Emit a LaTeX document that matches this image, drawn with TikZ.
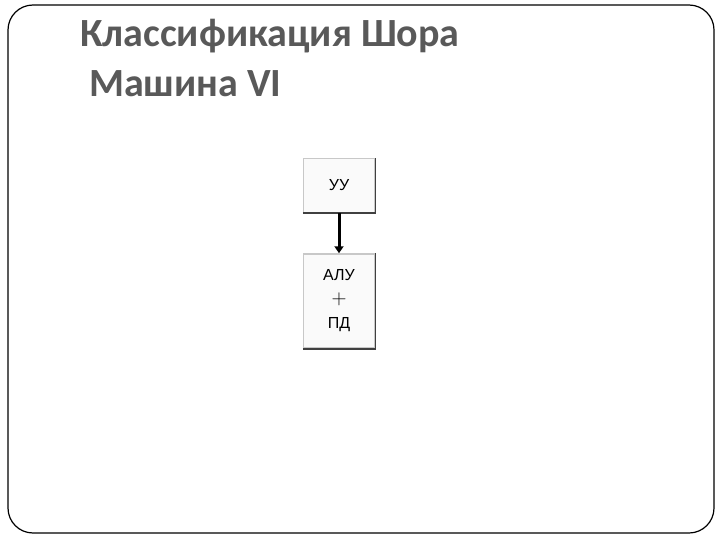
\documentclass[tikz,border=0pt]{standalone}
\usepackage{fontspec}
\setmainfont{Carlito}
\newfontfamily\boxfont{Liberation Sans}
\usetikzlibrary{positioning, arrows.meta}
\definecolor{titlegray}{HTML}{595959}
\definecolor{bevellight}{HTML}{C8C8C8}
\definecolor{beveldark}{HTML}{404040}
\tikzset{
  titletext/.style={anchor=base west, inner sep=0pt, font=\fontsize{40}{46}\selectfont\bfseries, text=titlegray},
  unitbox/.style={draw=bevellight, line width=1.5pt, fill=gray!4, minimum width=71pt, inner sep=0pt, align=center, font=\boxfont\fontsize{16}{24}\selectfont},
}
\begin{document}
\begin{tikzpicture}[x=1pt, y=-1pt]
    \useasboundingbox (0,0) rectangle (720,540);
    \draw[line width=1.2pt, rounded corners=25pt] (8,5) rectangle (714,533);
    \node[titletext] (head) at (80,47) {Классификация Шора};
    \node[titletext] (sub) at (89,97) {Машина VI};
    \node[unitbox, minimum height=54pt] (uu) at (339,185.5) {УУ};
    \node[unitbox, minimum height=94pt, below=40pt of uu] (alu) {АЛУ\\{\fontsize{20}{24}\selectfont $+$}\\ПД};
    \draw[beveldark, line width=1.5pt] (uu.south west) -- (uu.south east) -- (uu.north east);
    \draw[beveldark, line width=1.5pt] (alu.south west) -- (alu.south east) -- (alu.north east);
    \draw[line width=3pt, -{Triangle[length=7pt, width=9pt]}] (uu) -- (alu);
\end{tikzpicture}
\end{document}
